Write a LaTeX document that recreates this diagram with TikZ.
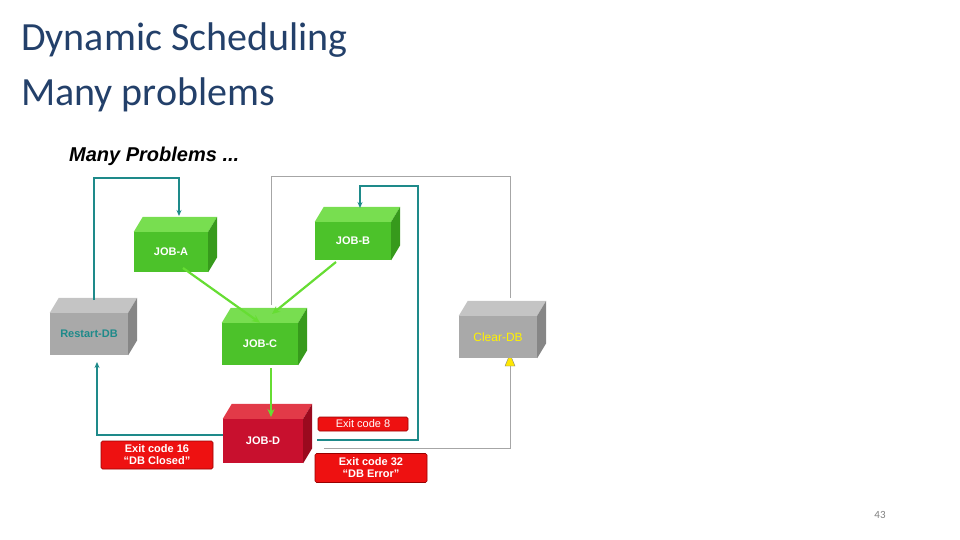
\documentclass[tikz,border=0pt]{standalone}
\usepackage{fontspec}
\setmainfont{Liberation Sans}
\newfontfamily\calib{Carlito}
\usetikzlibrary{arrows.meta}
\definecolor{ttl}{HTML}{23406A}
\definecolor{cGf}{HTML}{4CC22A}\definecolor{cGt}{HTML}{78DE50}\definecolor{cGs}{HTML}{379A1C}
\definecolor{cAf}{HTML}{A9A9A9}\definecolor{cAt}{HTML}{C4C4C4}\definecolor{cAs}{HTML}{868686}
\definecolor{cRf}{HTML}{C8102E}\definecolor{cRt}{HTML}{E23A48}\definecolor{cRs}{HTML}{9A0A1E}
\definecolor{cTeal}{HTML}{1E8A8A}
\definecolor{garr}{HTML}{66DD33}
\definecolor{lbl}{HTML}{EE1111}
\tikzset{
 box/.style={rectangle,inner sep=0pt,font=\bfseries\fontsize{11}{12}\selectfont,text=white},
 tag/.style={rectangle,fill=lbl,draw=red!60!black,line width=0.6pt,rounded corners=1.5pt,text=white,font=\bfseries\fontsize{11}{12}\selectfont,align=center,inner sep=1pt},
 tline/.style={cTeal,line width=1.6pt,-{Stealth[length=6pt,width=5pt]}},
 gline/.style={gray!70,line width=1pt},
 garrow/.style={garr,line width=2.2pt,-{Stealth[length=8pt,width=7pt]}},
}
\newcommand\jfaces[4]{% node, front, top, side
 \fill[#3] (#1.north west) -- (#1.north east) -- ++(9,-15) -- ([shift={(9,-15)}]#1.north west) -- cycle;
 \fill[#4] (#1.north east) -- (#1.south east) -- ++(9,-15) -- ([shift={(9,-15)}]#1.north east) -- cycle;
}
\begin{document}
\begin{tikzpicture}[x=1pt,y=-1pt]
\useasboundingbox (0,0) rectangle (960,540);
\node[anchor=base west,text=ttl,font=\calib\fontsize{40}{46}\selectfont,inner sep=0pt] (t1) at (21,51) {Dynamic Scheduling};
\node[anchor=base west,text=ttl,font=\calib\fontsize{40}{46}\selectfont,inner sep=0pt] (t2) at (21,106) {Many problems};
\node[anchor=base west,font=\bfseries\itshape\fontsize{20}{24}\selectfont,inner sep=0pt] (t3) at (69,161) {Many Problems ...};
\node[font=\calib\fontsize{11}{12}\selectfont,text=gray] (pg) at (880,515) {43};

% gray lines behind
\draw[gline] (271,305) -- (271,177) -- (510,177) -- (510,298);
\draw[gline] (324,448) -- (510,448) -- (510,366);
\fill[yellow!90!orange,draw=gray] (510,354) -- (505,366) -- (515,366) -- cycle;

% boxes
\node[box,fill=cGf,minimum width=74,minimum height=40] (A) at (171,252) {JOB-A};
\jfaces{A}{cGf}{cGt}{cGs}
\node[box,fill=cGf,minimum width=76,minimum height=38] (B) at (353,241) {JOB-B};
\jfaces{B}{cGf}{cGt}{cGs}
\node[box,fill=cGf,minimum width=76,minimum height=42] (C) at (260,344) {JOB-C};
\jfaces{C}{cGf}{cGt}{cGs}
\node[box,fill=cAf,minimum width=78,minimum height=42,text=cTeal] (R) at (89,334) {Restart-DB};
\jfaces{R}{cAf}{cAt}{cAs}
\node[box,fill=cAf,minimum width=78,minimum height=42,text=yellow,font=\fontsize{12}{13}\selectfont] (CL) at (498,337) {Clear-DB};
\jfaces{CL}{cAf}{cAt}{cAs}
\node[box,fill=cRf,minimum width=80,minimum height=44] (D) at (263,441) {JOB-D};
\jfaces{D}{cRf}{cRt}{cRs}

% teal loops
\draw[tline] (94,300) -- (94,178) -- (179,178) -- (179,216);
\draw[tline] (D.west |- 0,435) -- (97,435) -- (97,362);
\draw[tline] (317,440) -- (418,440) -- (418,186) -- (360,186) -- (360,208);

% green arrows
\draw[garrow] (183,268) -- (C.north);
\draw[garrow] (336,262) -- (272,314);
\draw[garrow] (271,368) -- (271,417);

% tags
\node[tag,font=\fontsize{11}{12}\selectfont,minimum width=90,minimum height=14] (e8) at (363,424) {Exit code 8};
\node[tag,minimum width=112,minimum height=28] (e16) at (157,455) {Exit code 16\\``DB Closed''};
\node[tag,minimum width=112,minimum height=29] (e32) at (371,468) {Exit code 32\\``DB Error''};
\end{tikzpicture}
\end{document}
